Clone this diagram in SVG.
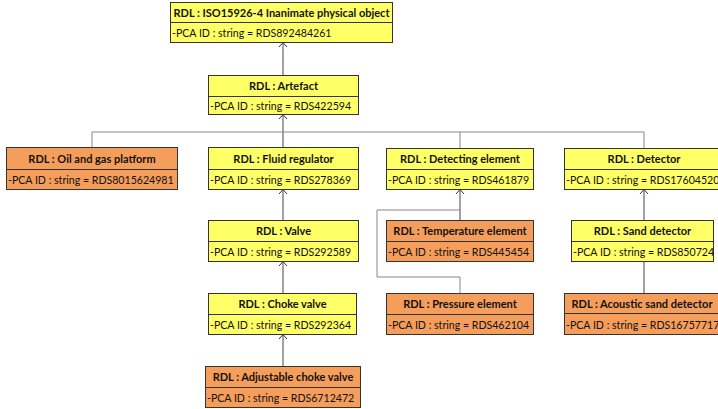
<svg xmlns="http://www.w3.org/2000/svg" width="718" height="409" viewBox="0 0 718 409">
<defs>
<style>
.y{fill:#FFFF66;stroke:#333;stroke-width:1}
.o{fill:#F59E5B;stroke:#333;stroke-width:1}
.h{font-family:Lato,"Liberation Sans",sans-serif;font-weight:bold;font-size:11px;fill:#111;text-anchor:middle}
.a{font-family:Lato,"Liberation Sans",sans-serif;font-size:10.6px;fill:#111}
.c{fill:none;stroke:#444;stroke-width:1}
.g{fill:none;stroke:#888;stroke-width:1}
</style>
<marker id="arr" viewBox="0 0 10 10" refX="9.5" refY="5" markerWidth="10" markerHeight="10" markerUnits="userSpaceOnUse" orient="auto">
<path d="M5,1 L9.5,5 L5,9" fill="none" stroke="#333" stroke-width="1"/>
</marker>
</defs>
<g id="connectors">
<path class="c" d="M283,75 V42.5" marker-end="url(#arr)"/>
<path class="c" d="M283,147 V114.5" marker-end="url(#arr)"/>
<path class="g" d="M92,147 V132 H644 V148"/>
<path class="g" d="M460,132 V148"/>
<path class="c" d="M283,220 V189.5" marker-end="url(#arr)"/>
<path class="c" d="M283,293 V261.5" marker-end="url(#arr)"/>
<path class="c" d="M283,366 V334.5" marker-end="url(#arr)"/>
<path class="c" d="M460,220 V189.5" marker-end="url(#arr)"/>
<path class="g" d="M460,293 V277 H377 V210 H460"/>
<path class="c" d="M644,220 V189.5" marker-end="url(#arr)"/>
<path class="c" d="M644,293 V261.5"/>
</g>
<g id="n-iso">
<rect class="y" x="170.5" y="2.5" width="222" height="20"/>
<rect class="y" x="170.5" y="22.5" width="222" height="20"/>
<text class="h" x="281.5" y="16.5">RDL : ISO15926-4 Inanimate physical object</text>
<text class="a" x="172" y="36.5">-PCA ID : string = RDS892484261</text>
</g>
<g id="n-artefact">
<rect class="y" x="208.5" y="75.5" width="150" height="21"/>
<rect class="y" x="208.5" y="96.5" width="150" height="18"/>
<text class="h" x="283.5" y="89.5">RDL : Artefact</text>
<text class="a" x="210" y="109.5">-PCA ID : string = RDS422594</text>
</g>
<g id="n-oil">
<rect class="o" x="6.5" y="147.5" width="171" height="22"/>
<rect class="o" x="6.5" y="169.5" width="171" height="20"/>
<text class="h" x="92" y="162.5">RDL : Oil and gas platform</text>
<text class="a" x="8" y="183.5">-PCA ID : string = RDS8015624981</text>
</g>
<g id="n-fluid">
<rect class="y" x="208.5" y="147.5" width="150" height="22"/>
<rect class="y" x="208.5" y="169.5" width="150" height="20"/>
<text class="h" x="283.5" y="162.5">RDL : Fluid regulator</text>
<text class="a" x="210" y="183.5">-PCA ID : string = RDS278369</text>
</g>
<g id="n-detecting">
<rect class="y" x="386.5" y="148.5" width="147" height="21"/>
<rect class="y" x="386.5" y="169.5" width="147" height="20"/>
<text class="h" x="460" y="162.5">RDL : Detecting element</text>
<text class="a" x="388" y="183.5">-PCA ID : string = RDS461879</text>
</g>
<g id="n-detector">
<rect class="y" x="564.5" y="148.5" width="160" height="21"/>
<rect class="y" x="564.5" y="169.5" width="160" height="20"/>
<text class="h" x="644" y="162.5">RDL : Detector</text>
<text class="a" x="566" y="183.5">-PCA ID : string = RDS17604520</text>
</g>
<g id="n-valve">
<rect class="y" x="208.5" y="220.5" width="150" height="21"/>
<rect class="y" x="208.5" y="241.5" width="150" height="20"/>
<text class="h" x="283.5" y="234.5">RDL : Valve</text>
<text class="a" x="210" y="255.5">-PCA ID : string = RDS292589</text>
</g>
<g id="n-temperature">
<rect class="o" x="386.5" y="220.5" width="147" height="21"/>
<rect class="o" x="386.5" y="241.5" width="147" height="20"/>
<text class="h" x="460" y="234.5">RDL : Temperature element</text>
<text class="a" x="388" y="255.5">-PCA ID : string = RDS445454</text>
</g>
<g id="n-sand">
<rect class="y" x="571.5" y="220.5" width="142" height="21"/>
<rect class="y" x="571.5" y="241.5" width="142" height="20"/>
<text class="h" x="642.5" y="234.5">RDL : Sand detector</text>
<text class="a" x="573" y="255.5">-PCA ID : string = RDS850724</text>
</g>
<g id="n-choke">
<rect class="y" x="208.5" y="293.5" width="148" height="21"/>
<rect class="y" x="208.5" y="314.5" width="148" height="20"/>
<text class="h" x="282.5" y="307.5">RDL : Choke valve</text>
<text class="a" x="210" y="328.5">-PCA ID : string = RDS292364</text>
</g>
<g id="n-pressure">
<rect class="o" x="386.5" y="293.5" width="147" height="21"/>
<rect class="o" x="386.5" y="314.5" width="147" height="20"/>
<text class="h" x="460" y="307.5">RDL : Pressure element</text>
<text class="a" x="388" y="328.5">-PCA ID : string = RDS462104</text>
</g>
<g id="n-acoustic">
<rect class="o" x="564.5" y="293.5" width="160" height="20"/>
<rect class="o" x="564.5" y="313.5" width="160" height="21"/>
<text class="h" x="642" y="307.5">RDL : Acoustic sand detector</text>
<text class="a" x="566" y="328.5">-PCA ID : string = RDS16757717</text>
</g>
<g id="n-adjustable">
<rect class="o" x="205.5" y="366.5" width="155" height="21"/>
<rect class="o" x="205.5" y="387.5" width="155" height="20"/>
<text class="h" x="283" y="380.5">RDL : Adjustable choke valve</text>
<text class="a" x="207" y="401.5">-PCA ID : string = RDS6712472</text>
</g>
</svg>
